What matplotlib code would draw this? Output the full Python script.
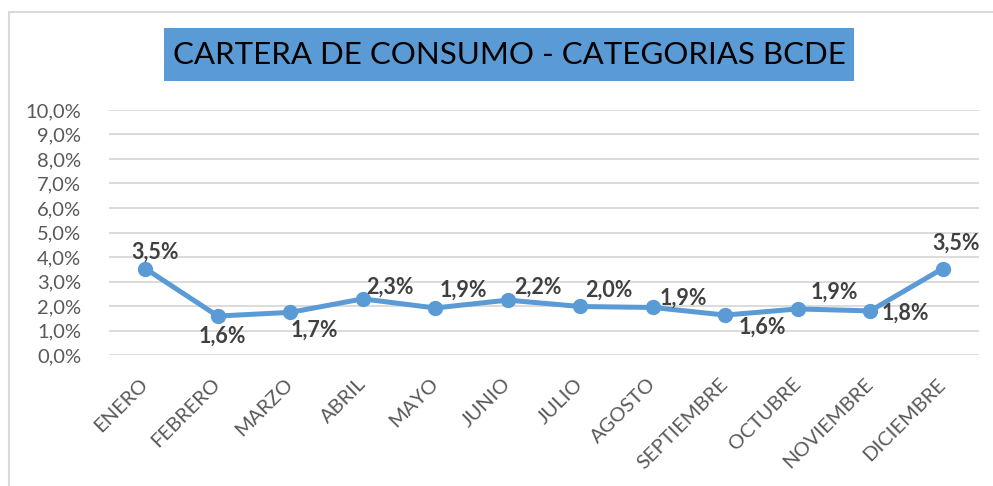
import matplotlib
matplotlib.use("Agg")
import matplotlib.pyplot as plt
from matplotlib.patches import Rectangle
from matplotlib.ticker import FuncFormatter, MultipleLocator

plt.rcParams['font.family'] = ['Lato', 'DejaVu Sans']

months = ["ENERO", "FEBRERO", "MARZO", "ABRIL", "MAYO", "JUNIO", "JULIO",
          "AGOSTO", "SEPTIEMBRE", "OCTUBRE", "NOVIEMBRE", "DICIEMBRE"]
values = [3.53, 1.59, 1.74, 2.29, 1.92, 2.24, 1.98, 1.94, 1.63, 1.88, 1.80, 3.53]
title = "CARTERA DE CONSUMO - CATEGORIAS BCDE"

# label offsets in pixels (style only)
label_offsets = [(10, 16), (5, -20), (24, -18), (27, 12), (28, 18), (30, 13),
                 (29, 16), (31, 9), (37, -12), (37, 17), (35, -2), (13, 25)]

W, H = 993, 486
fig = plt.figure(figsize=(W / 100, H / 100), dpi=100)
fig.patch.set_facecolor("white")

# outer chart border
fig.patches.append(Rectangle((9 / W, -0.1), 1.2, 1 - 12 / H + 0.1,
                             transform=fig.transFigure, fill=False,
                             edgecolor="#D9D9D9", linewidth=1.5))

ax = fig.add_axes([109 / W, 1 - 355 / H, (979 - 109) / W, (355 - 110) / H])
color = "#5B9BD5"
x = list(range(len(months)))
ax.plot(x, values, color=color, linewidth=3.6, marker="o", markersize=10,
        solid_capstyle="round", zorder=3, clip_on=False)

for xi, v, off in zip(x, values, label_offsets):
    ax.annotate(f"{v:.1f}%".replace(".", ","), (xi, v), xytext=off,
                textcoords="offset pixels", ha="center", va="center",
                fontsize=15.5, fontweight="bold", color="#404040", zorder=4)

ax.set_xlim(-0.5, len(months) - 0.5)
ax.set_ylim(0, 10)
ax.yaxis.set_major_locator(MultipleLocator(1))
ax.yaxis.set_major_formatter(FuncFormatter(lambda v, p: f"{v:.1f}%".replace(".", ",")))
ax.grid(axis="y", color="#D9D9D9", linewidth=1.3)
ax.set_axisbelow(True)
for s in ax.spines.values():
    s.set_visible(False)
ax.tick_params(axis="both", length=0, colors="#595959")
ax.tick_params(axis="y", pad=20, labelsize=14.5)
ax.set_xticks(x)
ax.set_xticklabels(months, rotation=45, ha="right", va="center",
                   rotation_mode="anchor", fontsize=14.5)
ax.tick_params(axis="x", pad=19)

# title box
fig.patches.append(Rectangle((164 / W, 1 - 81 / H), (854 - 164) / W, 53 / H,
                             transform=fig.transFigure, facecolor=color,
                             edgecolor="none"))
fig.text(509 / W, 1 - 54.5 / H, title, ha="center", va="center",
         fontsize=22.5, color="black")

fig.savefig("out.png", dpi=100)
